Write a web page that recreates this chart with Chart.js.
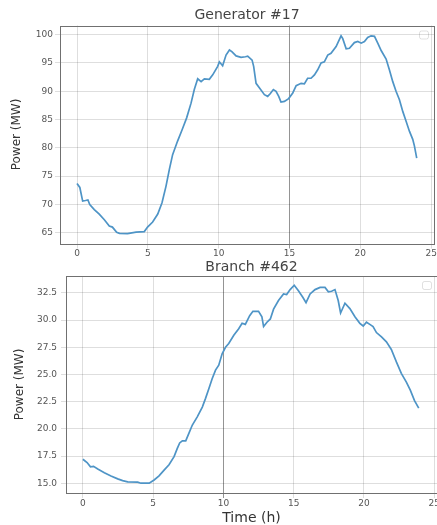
<!DOCTYPE html>
<html>
<head>
<meta charset="utf-8">
<script src="https://cdn.jsdelivr.net/npm/chart.js@4/dist/chart.umd.min.js"></script>
<style>
    html, body { margin: 0; padding: 0; background: #fff; }
    body { width: 437px; height: 525px; position: relative; overflow: hidden; }
    canvas { position: absolute; left: 0; }
    #gen { top: 0; }
    #branch { top: 258px; }
</style>
</head>
<body>
<canvas id="gen" width="437" height="258"></canvas>
<canvas id="branch" width="437" height="272"></canvas>
<script>
// Generator #17
var genTime = [0, 0.2, 0.4, 0.6, 0.77, 0.9, 1.22, 1.57, 1.93, 2.28, 2.5, 2.8, 3.0, 3.57, 4.17, 4.75, 4.98,
    5.34, 5.7, 6.0, 6.28, 6.52, 6.75, 7.1, 7.42, 7.74, 8.05, 8.28, 8.52, 8.76, 8.99, 9.34, 9.58, 9.93,
    10.05, 10.28, 10.52, 10.76, 10.93, 11.23, 11.58, 11.89, 12.05, 12.36, 12.47, 12.64, 12.87, 13.23,
    13.46, 13.65, 13.86, 14.05, 14.24, 14.4, 14.64, 14.94, 15.23, 15.47, 15.82, 16.05, 16.28, 16.52,
    16.76, 16.99, 17.23, 17.46, 17.7, 17.93, 18.29, 18.64, 18.76, 19.0, 19.23, 19.58, 19.82, 20.06,
    20.29, 20.52, 20.76, 21.0, 21.23, 21.47, 21.82, 22.05, 22.29, 22.52, 22.76, 23.0, 23.23, 23.47,
    23.7, 23.82, 23.98];
var genPower = [73.7, 73.0, 70.6, 70.7, 70.8, 70.0, 69.1, 68.3, 67.3, 66.2, 66.0, 65.1, 64.9, 64.85, 65.1, 65.2, 66.0,
    66.9, 68.3, 70.3, 73.2, 76.2, 78.8, 81.2, 83.2, 85.3, 87.9, 90.3, 92.2, 91.7, 92.2, 92.1, 92.9, 94.4,
    95.2, 94.5, 96.4, 97.3, 97.0, 96.25, 96.0, 96.1, 96.2, 95.5, 94.4, 91.4, 90.6, 89.4,
    89.1, 89.6, 90.3, 90.0, 89.1, 88.1, 88.2, 88.7, 89.7, 91.0, 91.4, 91.3, 92.3, 92.3,
    92.9, 93.8, 95.0, 95.2, 96.4, 96.7, 97.9, 99.8, 99.3, 97.5, 97.6, 98.6, 98.8, 98.5,
    98.8, 99.5, 99.8, 99.7, 98.5, 97.2, 95.7, 93.8, 91.7, 90.0, 88.5, 86.4, 84.7, 82.9,
    81.5, 80.3, 78.2];
var genTicks = [65, 70, 75, 80, 85, 90, 95, 100];

// Branch #462
var branchTime = [0, 0.3, 0.54, 0.76, 1.06, 1.53, 2.0, 2.48, 2.83, 3.19, 3.9, 4.13, 4.72, 5.07, 5.42, 5.78,
    6.13, 6.49, 6.72, 6.89, 7.08, 7.32, 7.55, 7.79, 8.14, 8.5, 8.73, 8.97, 9.2, 9.44, 9.67, 9.91,
    10.15, 10.38, 10.74, 11.09, 11.33, 11.56, 11.87, 12.1, 12.5, 12.74, 12.86, 13.1, 13.34, 13.57,
    13.92, 14.28, 14.5, 14.75, 15.04, 15.34, 15.65, 15.88, 16.17, 16.52, 16.88, 17.23, 17.47, 17.7,
    17.94, 18.17, 18.34, 18.65, 19.0, 19.36, 19.71, 19.95, 20.18, 20.42, 20.65, 20.89, 21.25, 21.6,
    21.95, 22.31, 22.66, 23.02, 23.3, 23.6, 23.9];
var branchPower = [17.2, 16.9, 16.5, 16.55, 16.3, 15.97, 15.67, 15.4, 15.24, 15.12, 15.1, 15.0, 15.0, 15.3, 15.67, 16.2,
    16.7, 17.44, 18.2, 18.7, 18.9, 18.9, 19.6, 20.35, 21.1, 22.0, 22.8, 23.7, 24.6, 25.4, 25.85, 26.9,
    27.5, 27.85, 28.6, 29.2, 29.7, 29.6, 30.4, 30.8, 30.8, 30.3, 29.4, 29.8, 30.1, 31.0,
    31.8, 32.4, 32.35, 32.8, 33.2, 32.7, 32.1, 31.6, 32.4, 32.8, 33.0, 33.0, 32.6, 32.65,
    32.8, 31.8, 30.65, 31.55, 31.05, 30.3, 29.7, 29.45, 29.8, 29.6, 29.4, 28.85, 28.45, 28.0,
    27.3, 26.15, 25.1, 24.3, 23.55, 22.6, 21.9];
var branchTicks = [15.0, 17.5, 20.0, 22.5, 25.0, 27.5, 30.0, 32.5];

var timeTicks = [0, 5, 10, 15, 20, 25];

var lineColor = "rgb(78, 148, 198)";
var textColor = "#555";
var gridColor = "rgba(0, 0, 0, 0.13)";
var font = "'DejaVu Sans', sans-serif";

// frame around the plot area (matplotlib spines), the empty legend box and the title
var framePlugin = {
    id: "frame",
    afterDraw: function (chart, args, opts) {
        var a = chart.chartArea, ctx = chart.ctx;
        ctx.save();
        ctx.strokeStyle = "#707070";
        ctx.lineWidth = 1;
        ctx.strokeRect(Math.round(a.left) + 0.5, Math.round(a.top) + 0.5,
            Math.round(a.right - a.left), Math.round(a.bottom - a.top));

        // empty legend box
        ctx.strokeStyle = "rgba(0,0,0,0.12)";
        ctx.beginPath();
        ctx.roundRect(a.right - 14.5, a.top + 5.5, 9, 8, 2);
        ctx.stroke();

        // title, centred over the plot area
        ctx.fillStyle = "#444";
        ctx.font = "14px " + font;
        ctx.textAlign = "center";
        ctx.textBaseline = "middle";
        ctx.fillText(opts.text, (a.left + a.right) / 2, opts.y);
        ctx.restore();
    }
};

function pairs(xs, ys) {
    return xs.map(function (x, i) { return { x: x, y: ys[i] }; });
}

function makeChart(id, cfg) {
    var ctx = document.getElementById(id).getContext("2d");
    return new Chart(ctx, {
        type: "line",
        data: {
            datasets: [{
                data: pairs(cfg.xs, cfg.ys),
                borderColor: lineColor,
                borderWidth: 1.7,
                pointRadius: 0,
                tension: 0,
                fill: false
            }]
        },
        plugins: [framePlugin],
        options: {
            responsive: false,
            animation: false,
            devicePixelRatio: 1,
            layout: { padding: { left: 0, right: cfg.padRight, top: cfg.padTop, bottom: 0 } },
            plugins: {
                legend: { display: false },
                tooltip: { enabled: false },
                title: { display: false },
                frame: { text: cfg.title, y: cfg.titleY }
            },
            scales: {
                x: {
                    type: "linear",
                    min: -1.2,
                    max: 25.2,
                    afterBuildTicks: function (s) {
                        s.ticks = timeTicks.map(function (v) { return { value: v }; });
                    },
                    afterFit: function (s) {
                        s.height = cfg.xHeight;
                        s.paddingLeft = 0;
                        s.paddingRight = 0;
                    },
                    border: { display: false },
                    grid: {
                        color: function (c) {
                            return c.tick && c.tick.value === cfg.darkX ? "rgba(0,0,0,0.42)" : gridColor;
                        },
                        tickLength: 5
                    },
                    ticks: {
                        color: textColor,
                        font: { family: font, size: 9 },
                        padding: 0,
                        maxRotation: 0,
                        autoSkip: false
                    },
                    title: {
                        display: cfg.xTitle !== "",
                        text: cfg.xTitle,
                        color: "#333",
                        font: { family: font, size: 14 },
                        padding: { top: 0, bottom: 3.5 }
                    }
                },
                y: {
                    min: cfg.yMin,
                    max: cfg.yMax,
                    afterBuildTicks: function (s) {
                        s.ticks = cfg.yTicks.map(function (v) { return { value: v }; });
                    },
                    afterFit: function (s) {
                        s.width = cfg.yWidth;
                        s.paddingTop = 0;
                        s.paddingBottom = 0;
                    },
                    border: { display: false },
                    grid: { color: gridColor, tickLength: 5 },
                    ticks: {
                        color: textColor,
                        font: { family: font, size: 9 },
                        padding: cfg.yTickPad,
                        callback: function (v) { return v.toFixed(cfg.decimals); }
                    },
                    title: {
                        display: true,
                        text: "Power (MW)",
                        color: "#333",
                        font: { family: font, size: 12 },
                        padding: { top: cfg.yTitlePad, bottom: 0 }
                    }
                }
            }
        }
    });
}

makeChart("gen", {
    title: "Generator #17", titleY: 15,
    xs: genTime, ys: genPower, yTicks: genTicks,
    yMin: 63.1, yMax: 101.62, decimals: 0,
    yWidth: 60, xHeight: 14.5, padRight: 3, padTop: 25.5,
    xTitle: "", darkX: 15, yTitlePad: 10, yTickPad: 2
});

makeChart("branch", {
    title: "Branch #462", titleY: 9,
    xs: branchTime, ys: branchPower, yTicks: branchTicks,
    yMin: 14.1, yMax: 34.05, decimals: 1,
    yWidth: 66, xHeight: 37, padRight: 0, padTop: 18,
    xTitle: "Time (h)", darkX: 10, yTitlePad: 13, yTickPad: 4
});
</script>
</body>
</html>
